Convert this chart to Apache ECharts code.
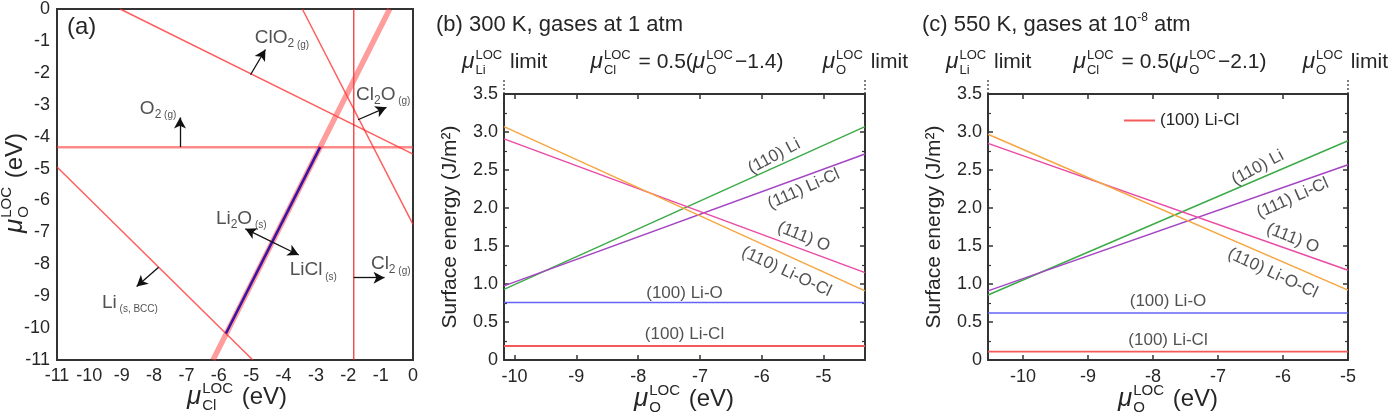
<!DOCTYPE html>
<html><head><meta charset="utf-8">
<script src="https://cdn.jsdelivr.net/npm/echarts@6/dist/echarts.min.js"></script>
<style>html,body{margin:0;padding:0;background:#fff}#c{width:1389px;height:416px}</style>
</head><body><div id="c"></div>
<script>
// ================= DATA =================
// Panel (a): phase boundaries, endpoints [muCl, muO] (eV)
const aO2Line    = [[-11, -4.33], [0, -4.33]];
const aCl2Line   = [[-1.83, -11], [-1.83, 0]];
const aClO2Line  = [[-9.05, 0], [0, -4.55]];
const aCl2OLine  = [[-3.42, 0], [0, -6.75]];
const aLiLine    = [[-11, -4.95], [-4.95, -11]];
const aLiClLine  = [[-6.18, -11], [-0.72, 0]];
const aStableSeg = [[-5.78, -10.17], [-2.87, -4.33]];
// arrows [from, to]
const aArrows = [
  [[-7.2, -4.33], [-7.2, -3.4]],
  [[-5.02, -2.06], [-4.56, -1.27]],
  [[-1.70, -3.47], [-0.82, -3.08]],
  [[-1.83, -8.42], [-0.88, -8.42]],
  [[-7.86, -8.09], [-8.54, -8.70]]
];
const aDoubleArrow = [[-5.18, -6.89], [-3.53, -7.71]];
// labels in panel (a): anchor [muCl, muO] (left-middle of text)
const aLabelText = ['{m|O}{s|2}{g| (g)}', '{m|ClO}{s|2}{g| (g)}', '{m|Cl}{s|2}{m|O}{g| (g)}',
  '{m|Cl}{s|2}{g| (g)}', '{m|Li}{s|2}{m|O}{g| (s)}', '{m|LiCl}{g| (s)}', '{m|Li}{g| (s, BCC)}'];
const aLabelAt = [[-8.44, -3.12], [-4.89, -0.91], [-1.76, -2.68], [-1.3, -7.99], [-6.09, -6.56], [-3.81, -8.18], [-9.61, -9.2]];

// Panels (b), (c): surface energies (J/m^2) at the two ends of the muO range
const surfNames = ['(110) Li', '(111) Li-Cl', '(111) O', '(110) Li-O-Cl', '(100) Li-O', '(100) Li-Cl'];
const bMuO = [-10.17, -4.33];
const b110Li    = [0.93, 3.07];
const b111LiCl  = [0.975, 2.71];
const b111O     = [2.91, 1.15];
const b110LiOCl = [3.07, 0.91];
const b100LiO   = [0.755, 0.755];
const b100LiCl  = [0.184, 0.184];
const cMuO = [-10.54, -5.0];
const c110Li    = [0.856, 2.885];
const c111LiCl  = [0.91, 2.57];
const c111O     = [2.85, 1.18];
const c110LiOCl = [2.97, 0.92];
const c100LiO   = [0.62, 0.62];
const c100LiCl  = [0.11, 0.11];
// label anchors (data coords) and rotations
const bLabelAt = [[-5.80, 2.68], [-5.32, 2.25], [-5.32, 1.62], [-5.6, 1.16], [-7.25, 0.88], [-7.25, 0.34]];
const cLabelAt = [[-6.39, 2.53], [-5.85, 2.13], [-5.85, 1.60], [-6.16, 1.14], [-7.77, 0.77], [-7.77, 0.26]];
const labelRot = [28, 24, -22, -25, 0, 0];
const muOTicks = [-10, -9, -8, -7, -6, -5];

// ================= STYLE / LAYOUT =================
const FONT = "'Liberation Sans', Arial, sans-serif";
const TXT = '#262626';
const AX = '#333';
const surfColors = ['#3daa48', '#a445c4', '#ea4aa4', '#f6a640', '#6464f4', '#f45a5a'];
const chart = echarts.init(document.getElementById('c'), null, {renderer: 'canvas'});

const ctx = document.createElement('canvas').getContext('2d');
function tw(s, fs, st) { ctx.font = (st || '') + ' ' + fs + 'px ' + FONT; return ctx.measureText(s).width; }
function txt(s, x, y, fs, st) {
  return {type: 'text', x: x, y: y, silent: true,
    style: {text: s, font: (st || '') + ' ' + fs + 'px ' + FONT, fill: TXT, textAlign: 'left', textVerticalAlign: 'middle', align: 'left', verticalAlign: 'middle'}};
}
function mathGroup(tokens, fs, x, y, align, rotation) {
  const ch = []; let cx = 0; const sm = Math.round(fs * 0.64);
  tokens.forEach(function (t) {
    if (typeof t === 'string') { ch.push(txt(t, cx, 0, fs, '')); cx += tw(t, fs, ''); }
    else if (t.mu) { ch.push(txt('μ', cx, 0, fs * 1.08, 'italic')); cx += tw('μ', fs * 1.08, 'italic') + 1; }
    else {
      ch.push(txt(t.sup, cx, -fs * 0.33, sm, ''));
      ch.push(txt(t.sub, cx, fs * 0.38, sm, ''));
      cx += Math.max(tw(t.sup, sm, ''), tw(t.sub, sm, '')) + 2;
    }
  });
  const off = align === 'center' ? -cx / 2 : (align === 'right' ? -cx : 0);
  ch.forEach(function (c) { c.x += off; });
  return {type: 'group', x: x, y: y, rotation: rotation || 0, children: ch};
}
const MU = {mu: true};
function LS(sub) { return {sup: 'LOC', sub: sub}; }

const gridA = {left: 57, top: 6, width: 356, height: 354};
const gridB = {left: 504, top: 94, width: 361, height: 266};
const gridC = {left: 988, top: 94, width: 360, height: 266};

function energyX(gi, range, pos) {
  return {type: 'value', gridIndex: gi, min: range[0], max: range[1], position: pos,
    axisLine: {show: true, onZero: false, lineStyle: {color: AX, width: 2}},
    axisTick: {show: true, inside: true, length: 5, customValues: muOTicks, lineStyle: {color: AX, width: 1.5}},
    axisLabel: {show: pos === 'bottom', customValues: muOTicks, fontSize: 18, color: TXT, fontFamily: FONT, margin: 8},
    splitLine: {show: false}};
}
function energyY(gi, pos) {
  return {type: 'value', gridIndex: gi, min: 0, max: 3.5, interval: 0.5, position: pos,
    axisLine: {show: true, onZero: false, lineStyle: {color: AX, width: 2}},
    axisTick: {show: true, inside: true, length: 5, lineStyle: {color: AX, width: 1.5}},
    minorTick: {show: true, splitNumber: 2, length: 3, lineStyle: {color: AX, width: 1.2}},
    axisLabel: {show: pos === 'left', fontSize: 18, color: TXT, fontFamily: FONT, margin: 6,
      formatter: function (v) { return v === 0 ? '0' : v.toFixed(1); }},
    splitLine: {show: false}, minorSplitLine: {show: false}};
}

function seg(pts, color, width, extra) {
  return Object.assign({type: 'line', xAxisIndex: 0, yAxisIndex: 0, data: pts, symbol: 'none', silent: true,
    lineStyle: {color: color, width: width}, z: 2}, extra || {});
}

const series = [];
// Panel (a)
const redLine = 'rgba(255,40,40,0.75)';
series.push(seg(aClO2Line, redLine, 1.5));
series.push(seg(aCl2OLine, redLine, 1.5));
series.push(seg(aLiLine, redLine, 1.5));
series.push(seg(aCl2Line, 'rgba(240,20,20,0.85)', 1.3));
series.push(seg(aO2Line, 'rgba(255,60,60,0.6)', 2.5));
series.push(seg(aLiClLine, 'rgba(255,60,60,0.5)', 5.5));
series.push(seg(aStableSeg, '#3a14a4', 2.6, {z: 3}));
series.push({type: 'line', xAxisIndex: 0, yAxisIndex: 0, data: [], silent: true, z: 4,
  markLine: {silent: true, symbol: ['none', 'arrow'], symbolSize: [9, 11], animation: false,
    label: {show: false}, emphasis: {disabled: true},
    lineStyle: {color: '#111', width: 1.3, type: 'solid'},
    data: aArrows.map(function (a) { return [{coord: a[0]}, {coord: a[1]}]; })
      .concat([[{coord: aDoubleArrow[0], symbol: 'arrow'}, {coord: aDoubleArrow[1], symbol: 'arrow'}]])}});
const richA = {
  m: {fontSize: 19, lineHeight: 24, color: TXT, fontFamily: FONT},
  s: {fontSize: 12, lineHeight: 12, verticalAlign: 'bottom', color: TXT, fontFamily: FONT},
  g: {fontSize: 10, lineHeight: 10, verticalAlign: 'bottom', color: TXT, fontFamily: FONT}
};
series.push({type: 'scatter', xAxisIndex: 0, yAxisIndex: 0, symbolSize: 0, silent: true, z: 5,
  data: aLabelAt.map(function (p, i) {
    return {value: p, label: {show: true, position: [0, 0], align: 'left', verticalAlign: 'middle',
      formatter: aLabelText[i], rich: richA}};
  })});

// Panels (b) and (c)
const bSets = [b110Li, b111LiCl, b111O, b110LiOCl, b100LiO, b100LiCl];
const cSets = [c110Li, c111LiCl, c111O, c110LiOCl, c100LiO, c100LiCl];
function addPanel(xIdx, yIdx, xs, sets, labelAt) {
  sets.forEach(function (ys, i) {
    series.push({type: 'line', name: surfNames[i], xAxisIndex: xIdx, yAxisIndex: yIdx, symbol: 'none', silent: true,
      data: xs.map(function (x, k) { return [x, ys[k]]; }),
      lineStyle: {color: surfColors[i], width: i === 5 ? 1.8 : 1.5}, itemStyle: {color: surfColors[i]}, z: 2});
  });
  series.push({type: 'scatter', xAxisIndex: xIdx, yAxisIndex: yIdx, symbolSize: 0, silent: true, z: 5,
    data: labelAt.map(function (p, i) {
      return {value: p, label: {show: true, position: [0, 0], align: 'center', verticalAlign: 'middle',
        rotate: labelRot[i], formatter: surfNames[i], fontSize: 17, color: TXT, fontFamily: FONT}};
    })});
}
addPanel(1, 1, bMuO, bSets, bLabelAt);
addPanel(3, 3, cMuO, cSets, cLabelAt);

const graphic = [
  txt('(a)', 67, 27, 24, ''),
  {type: 'text', x: 436, y: 25, silent: true, style: {text: '(b) 300 K, gases at 1 atm', font: '22px ' + FONT, fill: TXT, textVerticalAlign: 'middle', verticalAlign: 'middle'}},
  {type: 'text', x: 922, y: 25, silent: true, style: {text: '{n|(c) 550 K, gases at 10}{p|-8}{n| atm}', fill: TXT, textVerticalAlign: 'middle', verticalAlign: 'middle',
    rich: {n: {fontSize: 22, fontFamily: FONT, lineHeight: 26, fill: TXT, color: TXT}, p: {fontSize: 12, fontFamily: FONT, lineHeight: 12, verticalAlign: 'top', fill: TXT, color: TXT}}}},
  // axis titles
  mathGroup([MU, LS('Cl'), ' (eV)'], 24, 237, 397, 'center'),
  mathGroup([MU, LS('O'), ' (eV)'], 24, 15, 183, 'center', Math.PI / 2),
  mathGroup([MU, LS('O'), ' (eV)'], 24, 684, 399, 'center'),
  mathGroup([MU, LS('O'), ' (eV)'], 24, 1168, 399, 'center'),
  {type: 'text', x: 450, y: 227, rotation: Math.PI / 2, silent: true, style: {text: 'Surface energy (J/m²)', font: '21px ' + FONT, fill: TXT, textAlign: 'center', textVerticalAlign: 'middle', align: 'center', verticalAlign: 'middle'}},
  {type: 'text', x: 934, y: 227, rotation: Math.PI / 2, silent: true, style: {text: 'Surface energy (J/m²)', font: '21px ' + FONT, fill: TXT, textAlign: 'center', textVerticalAlign: 'middle', align: 'center', verticalAlign: 'middle'}},
  // top annotations
  mathGroup([MU, LS('Li'), ' limit'], 21, 462, 62, 'left'),
  mathGroup([MU, LS('Cl'), ' = 0.5(', MU, LS('O'), '−1.4)'], 21, 687, 62, 'center'),
  mathGroup([MU, LS('O'), ' limit'], 21, 908, 62, 'right'),
  mathGroup([MU, LS('Li'), ' limit'], 21, 946, 62, 'left'),
  mathGroup([MU, LS('Cl'), ' = 0.5(', MU, LS('O'), '−2.1)'], 21, 1170, 62, 'center'),
  mathGroup([MU, LS('O'), ' limit'], 21, 1388, 62, 'right')
];
[gridB.left, gridB.left + gridB.width, gridC.left, gridC.left + gridC.width].forEach(function (x) {
  graphic.push({type: 'line', silent: true, shape: {x1: x, y1: 80, x2: x, y2: gridB.top - 1},
    style: {stroke: '#555', lineWidth: 1.5, lineDash: [2, 2]}});
});

const option = {
  animation: false,
  backgroundColor: '#fff',
  textStyle: {fontFamily: FONT},
  legend: {data: [{name: '(100) Li-Cl', icon: 'rect'}], left: 1119, top: 107, itemWidth: 31, itemHeight: 2,
    selectedMode: false, textStyle: {fontSize: 17, color: TXT, fontFamily: FONT}, itemGap: 6},
  grid: [
    Object.assign({show: true, borderColor: AX, borderWidth: 2, backgroundColor: 'transparent'}, gridA),
    gridB, gridC
  ],
  xAxis: [
    {type: 'value', gridIndex: 0, min: -11, max: 0, interval: 1,
      axisLine: {show: false, onZero: false}, axisTick: {show: false}, splitLine: {show: false},
      axisLabel: {fontSize: 18, color: TXT, fontFamily: FONT, margin: 7}},
    energyX(1, bMuO, 'bottom'), energyX(1, bMuO, 'top'),
    energyX(2, cMuO, 'bottom'), energyX(2, cMuO, 'top')
  ],
  yAxis: [
    {type: 'value', gridIndex: 0, min: -11, max: 0, interval: 1,
      axisLine: {show: false, onZero: false}, axisTick: {show: false}, splitLine: {show: false},
      axisLabel: {fontSize: 18, color: TXT, fontFamily: FONT, margin: 7}},
    energyY(1, 'left'), energyY(1, 'right'),
    energyY(2, 'left'), energyY(2, 'right')
  ],
  series: series,
  graphic: graphic
};
chart.setOption(option);
</script></body></html>
